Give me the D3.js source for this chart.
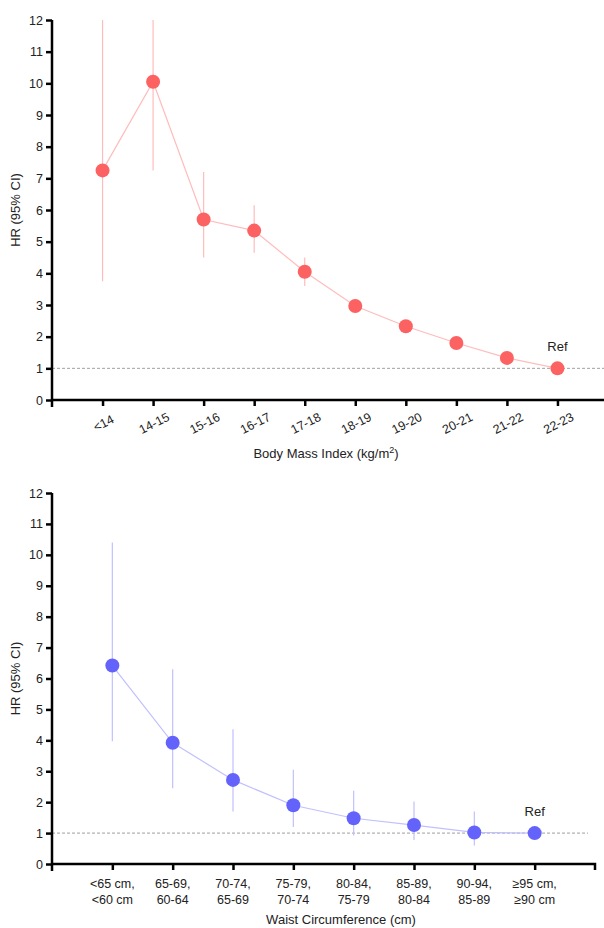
<!DOCTYPE html>
<html>
<head>
<meta charset="utf-8">
<script src="https://cdn.jsdelivr.net/npm/d3@7"></script>
<style>
  body { margin: 0; background: #fff; }
  svg { display: block; font-family: 'Liberation Sans', Arial, sans-serif; }
</style>
</head>
<body>
<div id="chart"></div>
<script>
// BMI panel
var bmiCats = ['<14', '14-15', '15-16', '16-17', '17-18', '18-19', '19-20', '20-21', '21-22', '22-23']
var bmiHR = [7.25, 10.05, 5.7, 5.35, 4.05, 2.97, 2.33, 1.8, 1.33, 1.0]
var bmiLo = [3.75, 7.25, 4.5, 4.65, 3.6, 2.8, 2.2, 1.7, 1.25, 1.0]
var bmiHi = [12, 12, 7.2, 6.15, 4.5, 3.15, 2.45, 1.9, 1.42, 1.0]

// waist panel
var waistCats = [['<65 cm,', '<60 cm'], ['65-69,', '60-64'], ['70-74,', '65-69'], ['75-79,', '70-74'],
  ['80-84,', '75-79'], ['85-89,', '80-84'], ['90-94,', '85-89'], ['\u226595 cm,', '\u226590 cm']]
var waistHR = [6.42, 3.92, 2.72, 1.9, 1.48, 1.26, 1.02, 1.0]
var waistLo = [3.97, 2.45, 1.7, 1.2, 0.92, 0.78, 0.6, 1.0]
var waistHi = [10.4, 6.3, 4.36, 3.05, 2.37, 2.02, 1.7, 1.0]

var yTicks = d3.range(0, 13)

var width = 604
var height = 928

var svg = d3.select('#chart')
	.append('svg')
	.attr('width', width)
	.attr('height', height)

function panel(opt) {
	var g = svg.append('g')
	var keys = d3.range(opt.hr.length)

	var x = d3.scalePoint()
		.domain(keys)
		.range([opt.left, opt.right])
		.padding(1)

	var y = d3.scaleLinear()
		.domain([0, 12])
		.range([opt.bottom, opt.top])

	// reference line
	g.append('line')
		.attr('x1', opt.left)
		.attr('x2', opt.refEnd)
		.attr('y1', y(1))
		.attr('y2', y(1))
		.style('stroke', '#888')
		.style('stroke-width', 0.8)
		.style('stroke-dasharray', '3,2')

	// error bars
	g.selectAll('.ci')
		.data(keys)
		.enter()
		.append('line')
		.attr('x1', d => x(d))
		.attr('x2', d => x(d))
		.attr('y1', d => y(opt.lo[d]))
		.attr('y2', d => y(opt.hi[d]))
		.style('stroke', opt.light)
		.style('stroke-width', 1.2)

	// connecting line
	g.append('path')
		.datum(keys)
		.attr('d', d3.line().x(d => x(d)).y(d => y(opt.hr[d])))
		.style('fill', 'none')
		.style('stroke', opt.light)
		.style('stroke-width', 1.2)

	g.selectAll('.pt')
		.data(keys)
		.enter()
		.append('circle')
		.attr('cx', d => x(d))
		.attr('cy', d => y(opt.hr[d]))
		.attr('r', 7)
		.style('fill', opt.color)

	// y axis
	var yAxis = g.append('g')
		.attr('transform', 'translate(' + opt.left + ',0)')
		.call(d3.axisLeft(y).tickValues(yTicks).tickSize(6).tickSizeOuter(0).tickPadding(3))
	yAxis.select('.domain').attr('d', 'M0,' + opt.top + 'V' + (opt.bottom + 7))
	yAxis.selectAll('line, path').style('stroke', '#000').style('stroke-width', 2.5)
	yAxis.selectAll('text').style('font-size', '12.5px').style('fill', '#222')

	// x axis
	var xAxis = g.append('g')
		.attr('transform', 'translate(0,' + opt.bottom + ')')
		.call(d3.axisBottom(x).tickSize(6).tickSizeOuter(0).tickFormat(''))
	xAxis.select('.domain').attr('d', 'M' + (opt.left - 1) + ',0H' + opt.right + (opt.endTick ? 'v6' : ''))
	xAxis.selectAll('line, path').style('stroke', '#000').style('stroke-width', 2.5)

	opt.labels(g, x)

	g.append('text')
		.attr('x', x(keys[keys.length - 1]))
		.attr('y', y(1) - 17)
		.attr('text-anchor', 'middle')
		.style('font-size', '13px')
		.style('fill', '#222')
		.text('Ref')

	g.append('text')
		.attr('transform', 'translate(20,' + ((opt.top + opt.bottom) / 2) + ') rotate(-90)')
		.attr('text-anchor', 'middle')
		.style('font-size', '13px')
		.style('fill', '#222')
		.text('HR (95% CI)')

	var t = g.append('text')
		.attr('x', opt.titleX)
		.attr('y', opt.titleY)
		.attr('text-anchor', 'middle')
		.style('font-size', '13px')
		.style('fill', '#222')
	opt.title(t)
}

panel({
	hr: bmiHR, lo: bmiLo, hi: bmiHi,
	left: 52, right: 608, top: 20, bottom: 400, refEnd: 604,
	color: '#fd6262', light: '#ffbcbc', titleX: 326, titleY: 458, endTick: false,
	labels: function (g, x) {
		g.selectAll('.xl')
			.data(bmiCats)
			.enter()
			.append('text')
			.attr('transform', (d, i) => 'translate(' + (x(i) + 3) + ',427) rotate(-27)')
			.attr('text-anchor', 'middle')
			.style('font-size', '12.5px')
			.style('fill', '#222')
			.text(d => d)
	},
	title: function (t) {
		t.append('tspan').text('Body Mass Index (kg/m')
		t.append('tspan').attr('dy', -5).style('font-size', '9px').text('2')
		t.append('tspan').attr('dy', 5).text(')')
	}
})

panel({
	hr: waistHR, lo: waistLo, hi: waistHi,
	left: 52, right: 595, top: 493, bottom: 864, refEnd: 588,
	color: '#6363fb', light: '#c0c0ff', titleX: 341, titleY: 924, endTick: true,
	labels: function (g, x) {
		var lab = g.selectAll('.xl')
			.data(waistCats)
			.enter()
			.append('text')
			.attr('x', (d, i) => x(i))
			.attr('y', 888)
			.attr('text-anchor', 'middle')
			.style('font-size', '12.5px')
			.style('fill', '#222')
		lab.append('tspan').attr('x', (d, i) => x(i)).text(d => d[0])
		lab.append('tspan').attr('x', (d, i) => x(i)).attr('dy', 16).text(d => d[1])
	},
	title: function (t) {
		t.text('Waist Circumference (cm)')
	}
})
</script>
</body>
</html>
